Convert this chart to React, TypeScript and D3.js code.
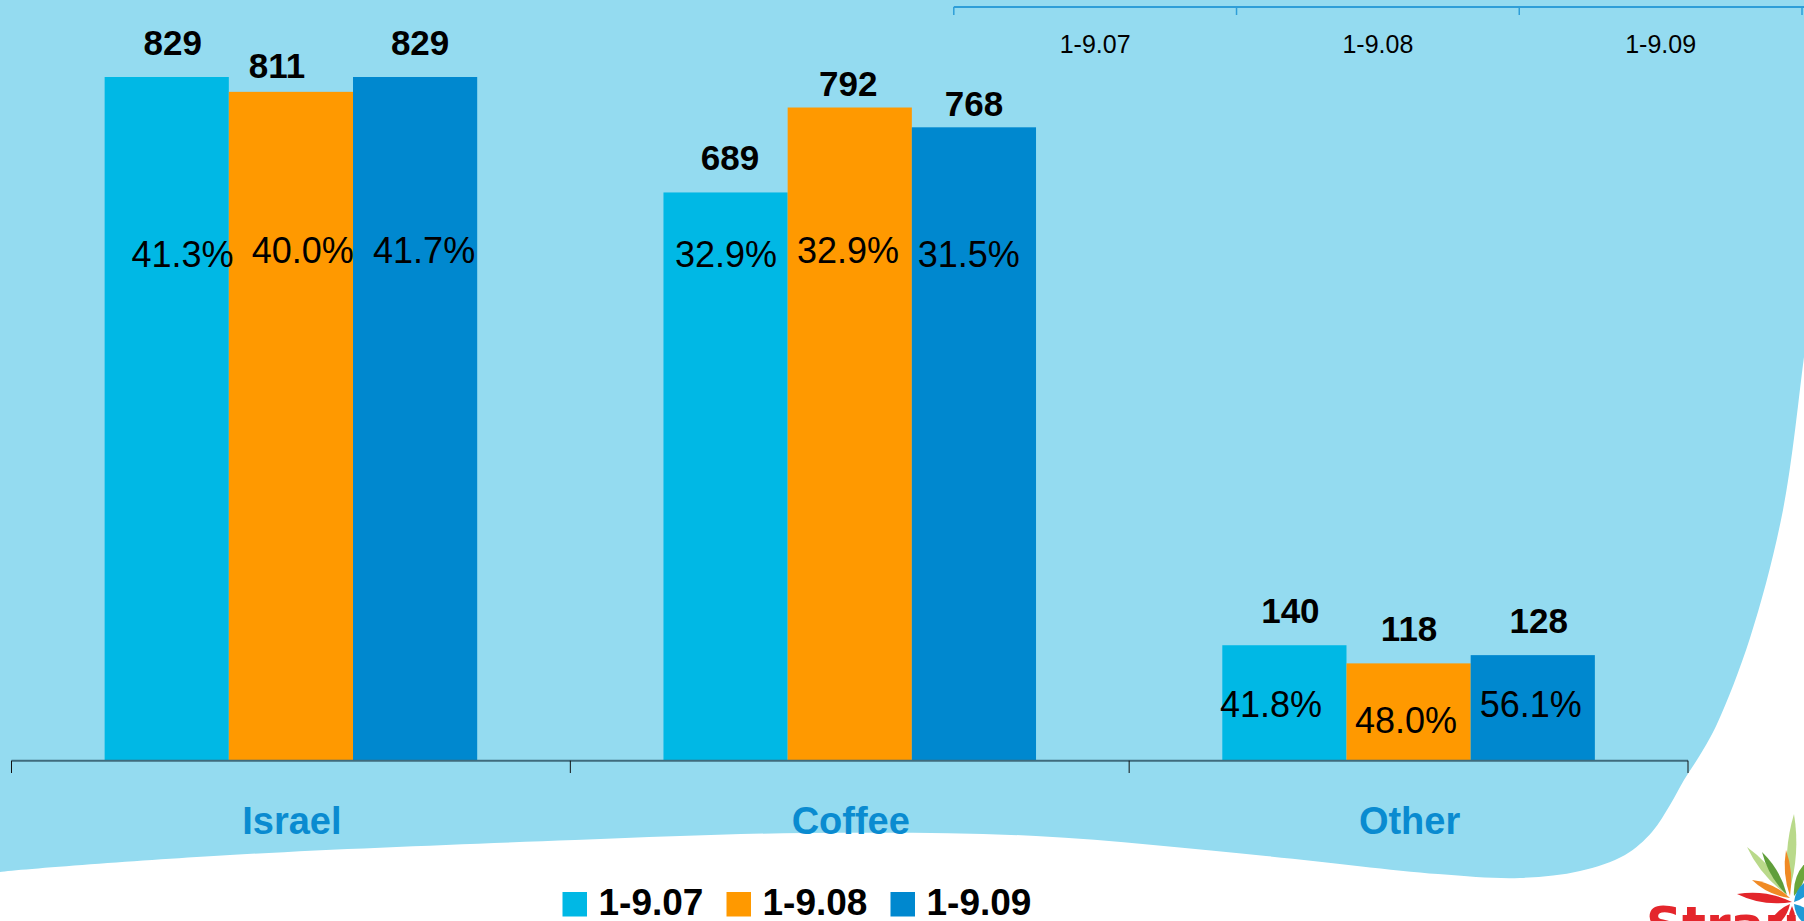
import React from "react";
import * as d3 from "d3";

// ---------- DATA ----------
const categories = ["Israel", "Coffee", "Other"];
const seriesNames = ["1-9.07", "1-9.08", "1-9.09"];
const values0907 = [829, 689, 140];
const values0908 = [811, 792, 118];
const values0909 = [829, 768, 128];
const share0907 = ["41.3%", "32.9%", "41.8%"];
const share0908 = ["40.0%", "32.9%", "48.0%"];
const share0909 = ["41.7%", "31.5%", "56.1%"];

// ---------- LAYOUT / STYLE ----------
const W = 1804;
const H = 921;
const BG = "#94DBF0";
const COLORS = ["#00B8E5", "#FF9900", "#0088CF"];
const FONT = "'Liberation Sans', Arial, Helvetica, sans-serif";
// label nudges [category][series] = [dx, dy]
const valueNudge = [
  [[6, 22], [-14, 14.3], [5, 22]],
  [[4.5, 22], [-1.5, 11.6], [0, 11.3]],
  [[6, 22], [0.5, 22], [6, 22]],
];
const shareNudge = [
  [[15.8, 494], [11.9, 497.4], [9, 497.4]],
  [[0.5, 494], [-1.7, 497.4], [-5.2, 494]],
  [[-13.4, 43.4], [-2.6, 28], [-2, 44]],
];

const valuesBySeries = [values0907, values0908, values0909];
const sharesBySeries = [share0907, share0908, share0909];

const waveBoundary: [number, number][] = [
  [-5, 873], [0, 872], [230, 855], [575, 840], [805, 833], [1036, 836], [1266, 856],
  [1438, 874], [1520, 878], [1580, 871], [1625, 855], [1652, 832], [1670, 805],
  [1684, 780], [1700, 755], [1717, 724], [1750, 638], [1783, 510], [1804, 357], [1809, 320],
];

function petal(bx: number, by: number, tx: number, ty: number, w: number) {
  const dx = tx - bx, dy = ty - by;
  const len = Math.hypot(dx, dy);
  const nx = -dy / len, ny = dx / len;
  const mx = bx + dx * 0.5, my = by + dy * 0.5;
  return `M${bx},${by} Q${mx + nx * w},${my + ny * w} ${tx},${ty} Q${mx - nx * w},${my - ny * w} ${bx},${by} Z`;
}

export default function App() {
  const x0 = d3.scaleBand<string>().domain(categories).range([11.5, 1688]).paddingInner(0).paddingOuter(0);
  const x1 = d3.scaleBand<string>().domain(seriesNames).range([0, x0.bandwidth()]).paddingInner(0).paddingOuter(0.75);
  const y = d3.scaleLinear().domain([0, 829]).range([760.7, 77]);
  const base = y(0);

  const tableX = d3.scaleBand<string>().domain(seriesNames).range([953.8, 1802]);

  const wavePath =
    (d3.line().curve(d3.curveCatmullRom.alpha(0.5))(waveBoundary) as string) +
    ` L${W + 10},${H + 10} L-5,${H + 10} Z`;

  const tickXs = [...categories.map((c) => x0(c) as number), 1688];
  const tableTicks = [...seriesNames.map((s) => tableX(s) as number), 1802];

  return (
    <svg
      width={W}
      height={H}
      viewBox={`0 0 ${W} ${H}`}
      style={{ position: "absolute", left: 0, top: 0, display: "block" }}
      fontFamily={FONT}
    >
      <rect x={0} y={0} width={W} height={H} fill={BG} />
      <path d={wavePath} fill="#FFFFFF" />

      {/* top table remnant */}
      <line x1={953.8} x2={W} y1={7} y2={7} stroke="#2E9ED8" strokeWidth={2} />
      {tableTicks.map((t, i) => (
        <line key={"tt" + i} x1={t} x2={t} y1={7} y2={15} stroke="#2E9ED8" strokeWidth={1.5} />
      ))}
      {seriesNames.map((s) => (
        <text
          key={"tl" + s}
          x={(tableX(s) as number) + tableX.bandwidth() / 2}
          y={53.3}
          fontSize={25}
          textAnchor="middle"
          fill="#000"
        >
          {s}
        </text>
      ))}

      {/* bars */}
      {categories.map((c, ci) => (
        <g key={c} transform={`translate(${x0(c)},0)`}>
          {seriesNames.map((s, si) => {
            const v = valuesBySeries[si][ci];
            const bx = x1(s) as number;
            return (
              <rect key={s} x={bx} y={y(v)} width={x1.bandwidth()} height={base - y(v)} fill={COLORS[si]} />
            );
          })}
        </g>
      ))}

      {/* axis */}
      <line x1={tickXs[0]} x2={1688} y1={base} y2={base} stroke="#3F6B7D" strokeWidth={2} />
      {tickXs.map((t, i) => (
        <line key={"ax" + i} x1={t} x2={t} y1={base} y2={773} stroke="#111" strokeWidth={1} />
      ))}

      {/* value + share labels */}
      {categories.map((c, ci) =>
        seriesNames.map((s, si) => {
          const v = valuesBySeries[si][ci];
          const cx = (x0(c) as number) + (x1(s) as number) + x1.bandwidth() / 2;
          const [vdx, vdy] = valueNudge[ci][si];
          const [pdx, plift] = shareNudge[ci][si];
          return (
            <g key={c + s}>
              <text x={cx + vdx} y={y(v) - vdy} fontSize={35} fontWeight="bold" textAnchor="middle" fill="#000">
                {v}
              </text>
              <text x={cx + pdx} y={base - plift} fontSize={36} textAnchor="middle" fill="#000">
                {sharesBySeries[si][ci]}
              </text>
            </g>
          );
        })
      )}

      {/* category labels */}
      {categories.map((c) => (
        <text
          key={"cl" + c}
          x={(x0(c) as number) + x0.bandwidth() / 2 + 1}
          y={834}
          fontSize={38}
          fontWeight="bold"
          textAnchor="middle"
          fill="#0A8BD0"
        >
          {c}
        </text>
      ))}

      {/* legend */}
      {seriesNames.map((s, i) => {
        const lx = 562.5 + i * 164;
        return (
          <g key={"lg" + s}>
            <rect x={lx} y={892} width={24.5} height={24.5} fill={COLORS[i]} />
            <text x={lx + 36} y={914.5} fontSize={37} fontWeight="bold" fill="#000">
              {s}
            </text>
          </g>
        );
      })}

      {/* logo fragment */}
      <g>
        <text x={1646} y={942} fontSize={50} fontWeight="bold" fill="#E4262C" fontFamily="'DejaVu Sans', sans-serif">
          Strauss
        </text>
        <path d={petal(1789, 892, 1794, 814, 9)} fill="#B9D98A" />
        <path d={petal(1786, 894, 1747, 847, 8)} fill="#B9D98A" />
        <path d={petal(1787, 895, 1762, 852, 7)} fill="#5F9E3A" />
        <path d={petal(1790, 896, 1786, 850, 6)} fill="#F08A24" />
        <path d={petal(1790, 898, 1752, 880, 7)} fill="#F08A24" />
        <path d={petal(1792, 902, 1737, 894, 9)} fill="#E3262B" />
        <path d={petal(1794, 896, 1806, 862, 8)} fill="#6BA63A" />
        <path d={petal(1794, 902, 1814, 878, 10)} fill="#1E9AD6" />
        <path d={petal(1794, 904, 1816, 928, 12)} fill="#1E9AD6" />
        <path d={petal(1790, 904, 1768, 930, 9)} fill="#E3262B" />
        <path d={petal(1792, 906, 1792, 934, 7)} fill="#E3262B" />
      </g>
    </svg>
  );
}
